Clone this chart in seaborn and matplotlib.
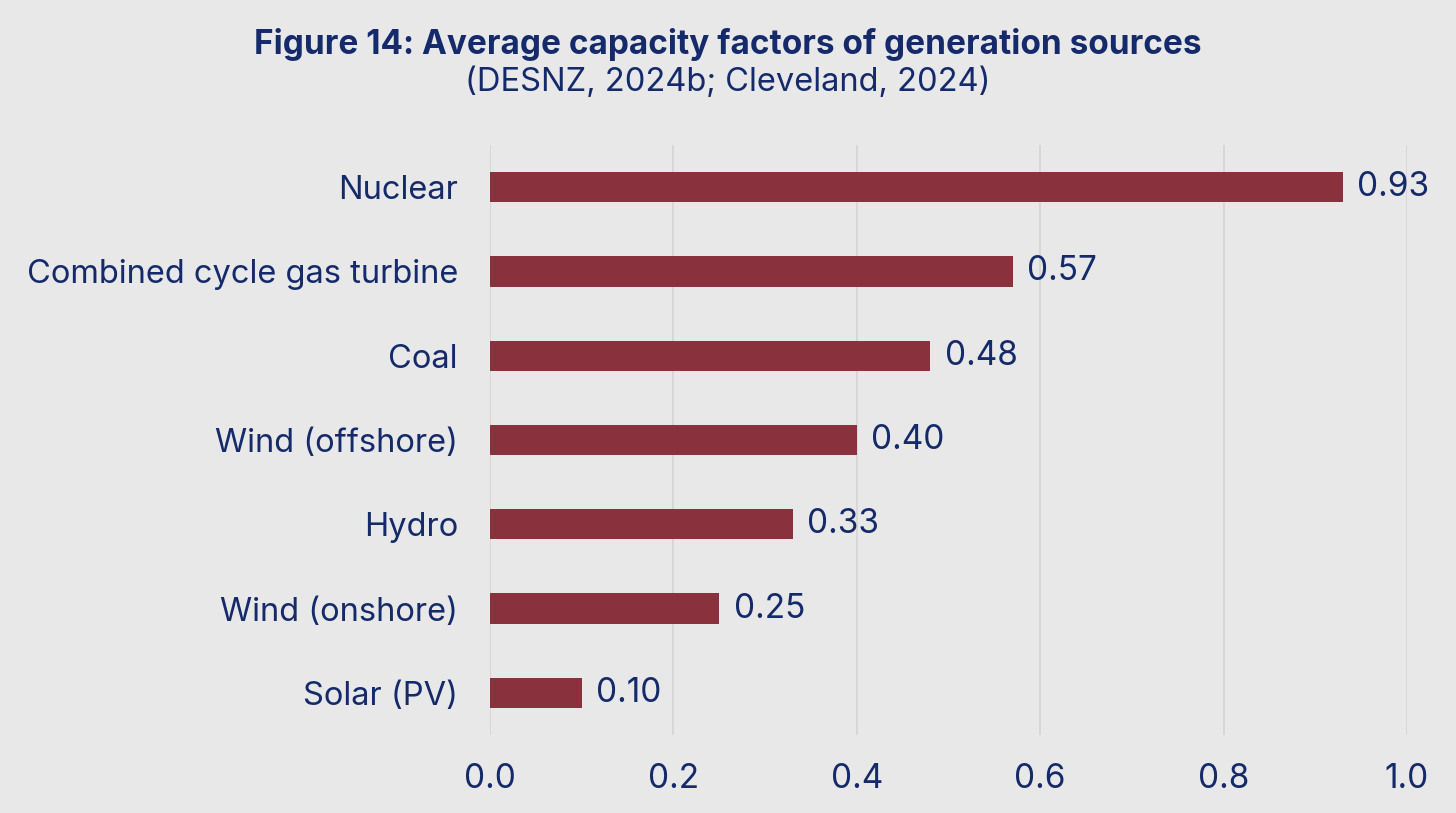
import matplotlib
matplotlib.use("Agg")
import matplotlib.pyplot as plt
import seaborn as sns
import pandas as pd

# Dados do gráfico
fontes = ["Nuclear", "Combined cycle gas turbine", "Coal", "Wind (offshore)",
          "Hydro", "Wind (onshore)", "Solar (PV)"]
fatores = [0.93, 0.57, 0.48, 0.40, 0.33, 0.25, 0.10]
ticks_x = [0.0, 0.2, 0.4, 0.6, 0.8, 1.0]

titulo = "Figure 14: Average capacity factors of generation sources"
subtitulo = "(DESNZ, 2024b; Cleveland, 2024)"

fundo = "#e8e8e8"
cor_barra = "#8a313e"
cor_texto = "#152a6a"

sns.set_theme(style="whitegrid")
plt.rcParams["font.family"] = ["Inter", "DejaVu Sans"]

df = pd.DataFrame({"fonte": fontes, "fator": fatores})

fig = plt.figure(figsize=(14.56, 8.13), dpi=100, facecolor=fundo)
ax = fig.add_axes([0.3365, 0.0959, 0.6298, 0.7257])
ax.set_facecolor(fundo)

sns.barplot(data=df, x="fator", y="fonte", color=cor_barra, width=0.36,
            saturation=1, linewidth=0, ax=ax, zorder=3)

for i, v in enumerate(fatores):
    ax.text(v + 0.016, i, f"{v:.2f}", va="center", ha="left",
            fontsize=24, color=cor_texto)

ax.set_xlim(0, 1.0)
ax.set_ylim(6.5, -0.5)
ax.set_xticks(ticks_x)
ax.set_xticklabels([f"{t:.1f}" for t in ticks_x])
ax.set_xlabel("")
ax.set_ylabel("")
ax.grid(axis="x", color="#d6d6d6", linewidth=1.3)
ax.grid(axis="y", visible=False)
for s in ax.spines.values():
    s.set_visible(False)
ax.tick_params(axis="x", length=0, pad=20, labelsize=24, labelcolor=cor_texto)
ax.tick_params(axis="y", length=0, pad=23, labelsize=23.5, labelcolor=cor_texto)

fig.text(0.5, 0.945, titulo, ha="center", va="center", fontsize=24,
         fontweight="bold", color=cor_texto)
fig.text(0.5, 0.899, subtitulo, ha="center", va="center", fontsize=23.5,
         color=cor_texto)

fig.savefig("out.png", dpi=100, facecolor=fundo)
